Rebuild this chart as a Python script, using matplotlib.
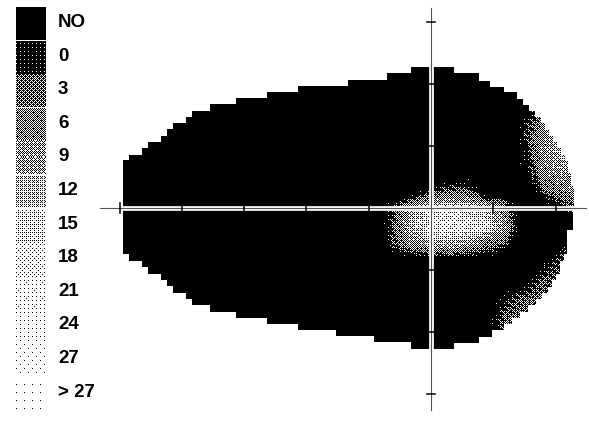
import numpy as np
import matplotlib
matplotlib.use('Agg')
import matplotlib.pyplot as plt

# Greyscale legend classes (dB)
legend_labels = ['NO', '0', '3', '6', '9', '12', '15', '18', '21', '24', '27', '> 27']

# Field outline as steps: start x of each step (last value = right end) and edge height, degrees
upper_x = [-49.4, -48.5, -46.4, -45.4, -43.3, -42.4, -41.4, -39.3, -38.4, -35.5, -31.3,
           -26.3, -21.3, -13.3, -7.1, -3.2, 3.7, 7.7, 9.5, 11.7, 13.8, 14.8, 15.7, 16.7,
           17.7, 18.3, 18.9, 19.6, 20.2, 20.9, 21.5, 22.0, 22.5, 23.0]
upper_y = [7.7, 8.5, 9.7, 10.6, 11.6, 12.7, 13.7, 14.7, 15.6, 16.8, 17.7, 18.7, 19.7,
           20.6, 21.8, 22.7, 21.8, 20.5, 19.5, 18.7, 17.6, 16.6, 15.6, 14.7, 13.7, 12.6,
           11.6, 10.6, 9.7, 8.5, 7.6, 5.6, 3.5]
lower_x = [-49.4, -48.5, -46.4, -45.4, -43.3, -42.4, -41.4, -39.3, -38.4, -35.5, -31.3,
           -26.3, -21.3, -15.2, -9.1, -3.2, 3.7, 7.7, 9.8, 11.7, 13.0, 14.3, 15.6, 16.9,
           17.8, 18.8, 19.4, 20.1, 20.7, 21.3, 21.8, 22.8]
lower_y = [-7.4, -8.5, -9.5, -10.6, -11.6, -12.6, -13.7, -14.7, -15.6, -16.8, -17.7,
           -18.7, -19.7, -20.6, -21.6, -22.7, -21.8, -20.8, -19.7, -18.7, -17.7, -16.8,
           -15.6, -14.7, -13.7, -12.7, -11.6, -10.6, -8.5, -7.4, -3.5]

# Sensitivity at test locations (dB), N = no response
N = -6
grid_x = [-9, -6, -3, 0, 3, 6, 9, 12, 15, 18, 21, 24]
grid_y = [21, 18, 15, 12, 9, 6, 3, 0, -3, -6, -9, -12, -15, -18, -21]
sens = [
    [N, N, N, N, N, N, N, N, N, N, N, N],
    [N, N, N, N, N, N, N, N, N, N, N, N],
    [N, N, N, N, N, N, N, N, 0, 4, N, N],
    [N, N, N, N, N, N, N, N, 2, 9, 10, N],
    [N, N, N, N, N, N, N, N, 0, 10, 12, 10],
    [N, N, N, N, N, N, N, N, -1, 8, 11, 10],
    [N, N, N, 0, 4, 3, N, N, N, 5, 8, 8],
    [N, 3, 12, 15, 16, 15, 12, 6, N, N, 2, 2],
    [N, 4, 14, 18, 20, 20, 17, 10, N, N, N, N],
    [N, 3, 8, 11, 12, 10, 6, 3, N, N, 1, 1],
    [N, N, N, N, N, N, N, N, N, 1, 3, 3],
    [N, N, N, N, N, N, N, N, 0, 4, 4, N],
    [N, N, N, N, N, N, N, 2, 5, 5, N, N],
    [N, N, N, N, N, N, -1, 5, 5, N, N, N],
    [N, N, N, N, N, N, N, 3, N, N, N, N],
]

# ink coverage of each greyscale class
ink = [1.0, 0.94, 0.62, 0.52, 0.42, 0.3, 0.18, 0.11, 0.07, 0.045, 0.03, 0.015]

W, H = 589, 425
PX_X, PX_Y = 6.23, 6.2          # pixels per degree
CX, CY = 431, 208               # fixation in pixels
LEFT = 95                       # left edge of the field panel


def bayer(n):
    m = np.array([[0]])
    while m.shape[0] < n:
        m = np.block([[4 * m, 4 * m + 2], [4 * m + 3, 4 * m + 1]])
    return (m + 0.5) / m.size


thr = bayer(16)


def texture(rows, cols, level):
    t = thr[np.ix_(rows % 16, cols % 16)]
    return np.where(t < np.asarray(ink)[level], 0.0, 1.0)


def step_edge(xs, ys, x):
    xs = np.asarray(xs)
    idx = np.searchsorted(xs, x, side='right') - 1
    ok = (idx >= 0) & (idx < len(ys))
    edge = np.asarray(ys)[np.clip(idx, 0, len(ys) - 1)]
    return edge, ok


fig = plt.figure(figsize=(W / 100, H / 100), dpi=100)
fig.patch.set_facecolor('white')

# ---- field panel ----
ax = fig.add_axes([LEFT / W, 0, (W - LEFT) / W, 1])
x_lo, x_hi = (LEFT - CX) / PX_X, (W - CX) / PX_X
y_lo, y_hi = (CY - H) / PX_Y, CY / PX_Y

rows = np.arange(H)
cols = np.arange(LEFT, W)
xx = x_lo + (cols - LEFT + 0.5) / PX_X
yy = y_hi - (rows + 0.5) / PX_Y
XX, YY = np.meshgrid(xx, yy)

top, ok_t = step_edge(upper_x, upper_y, XX)
bot, ok_b = step_edge(lower_x, lower_y, XX)
inside = np.where(YY >= 0, ok_t & (YY <= top), ok_b & (YY >= bot))

# bilinear interpolation between test locations
gx = np.array(grid_x, float)
gy = np.array(grid_y[::-1], float)
S = np.array(sens[::-1], float)
fi = np.interp(XX, gx, np.arange(len(gx)))
fj = np.interp(YY, gy, np.arange(len(gy)))
i0 = np.clip(np.floor(fi).astype(int), 0, len(gx) - 2)
j0 = np.clip(np.floor(fj).astype(int), 0, len(gy) - 2)
tx, ty = fi - i0, fj - j0
val = ((1 - tx) * (1 - ty) * S[j0, i0] + tx * (1 - ty) * S[j0, i0 + 1]
       + (1 - tx) * ty * S[j0 + 1, i0] + tx * ty * S[j0 + 1, i0 + 1])
outside_grid = (XX < gx[0]) | (XX > gx[-1]) | (YY < gy[0]) | (YY > gy[-1])
val[outside_grid] = N

# blend neighbouring classes at the class borders (interleaved gradient noise)
R, C = np.meshgrid(rows, cols, indexing='ij')
ign = np.mod(52.9829189 * np.mod(0.06711056 * C + 0.00583715 * R, 1.0), 1.0)
val = np.where(val > -2.5, val + (ign - 0.5) * 4.0, val)

level = np.where(val < 0, 0, np.minimum(np.floor(val / 3).astype(int) + 1, 11))
tex = np.ones_like(val)
for k in range(len(ink)):
    tex = np.where(level == k, texture(rows, cols, k), tex)
img = np.where(inside, tex, 1.0)

ax.imshow(img, cmap='gray', vmin=0, vmax=1, interpolation='nearest',
          extent=(x_lo, x_hi, y_lo, y_hi), aspect='auto')

# meridians with a white gap through the field
h_ext = [-53.1, 24.9]
v_ext = [32.3, -32.6]
ax.plot(h_ext, [0, 0], color='white', lw=3.4, solid_capstyle='butt')
ax.plot([0, 0], v_ext, color='white', lw=3.4, solid_capstyle='butt')
ax.plot(h_ext, [0, 0], color='#555555', lw=0.8)
ax.plot([0, 0], v_ext, color='#555555', lw=0.8)
for t in [-50, -40, -30, -20, -10, 10, 20]:
    ax.plot([t, t], [-0.8, 0.8], color='black', lw=1.1)
for t in [-30, -20, -10, 10, 20, 30]:
    ax.plot([-0.7, 0.7], [t, t], color='black', lw=1.1)
ax.set_xlim(x_lo, x_hi)
ax.set_ylim(y_lo, y_hi)
ax.set_axis_off()

# ---- legend panel ----
lg = fig.add_axes([0, 0, LEFT / W, 1])
for k, lab in enumerate(legend_labels):
    y0 = int(round(7 + 33.6 * k))
    r = np.arange(y0, y0 + 33)
    c = np.arange(16, 46)
    lg.imshow(texture(r, c, k), cmap='gray', vmin=0, vmax=1, interpolation='nearest',
              extent=(16, 46, y0 + 33, y0), aspect='auto')
    lg.text(58, y0 + 15.5, lab, fontsize=13.5, fontweight='bold', va='center',
            ha='left', family=['Liberation Sans', 'DejaVu Sans'])
lg.set_xlim(0, LEFT)
lg.set_ylim(H, 0)
lg.set_axis_off()

fig.savefig('out.png', dpi=100, facecolor='white')
